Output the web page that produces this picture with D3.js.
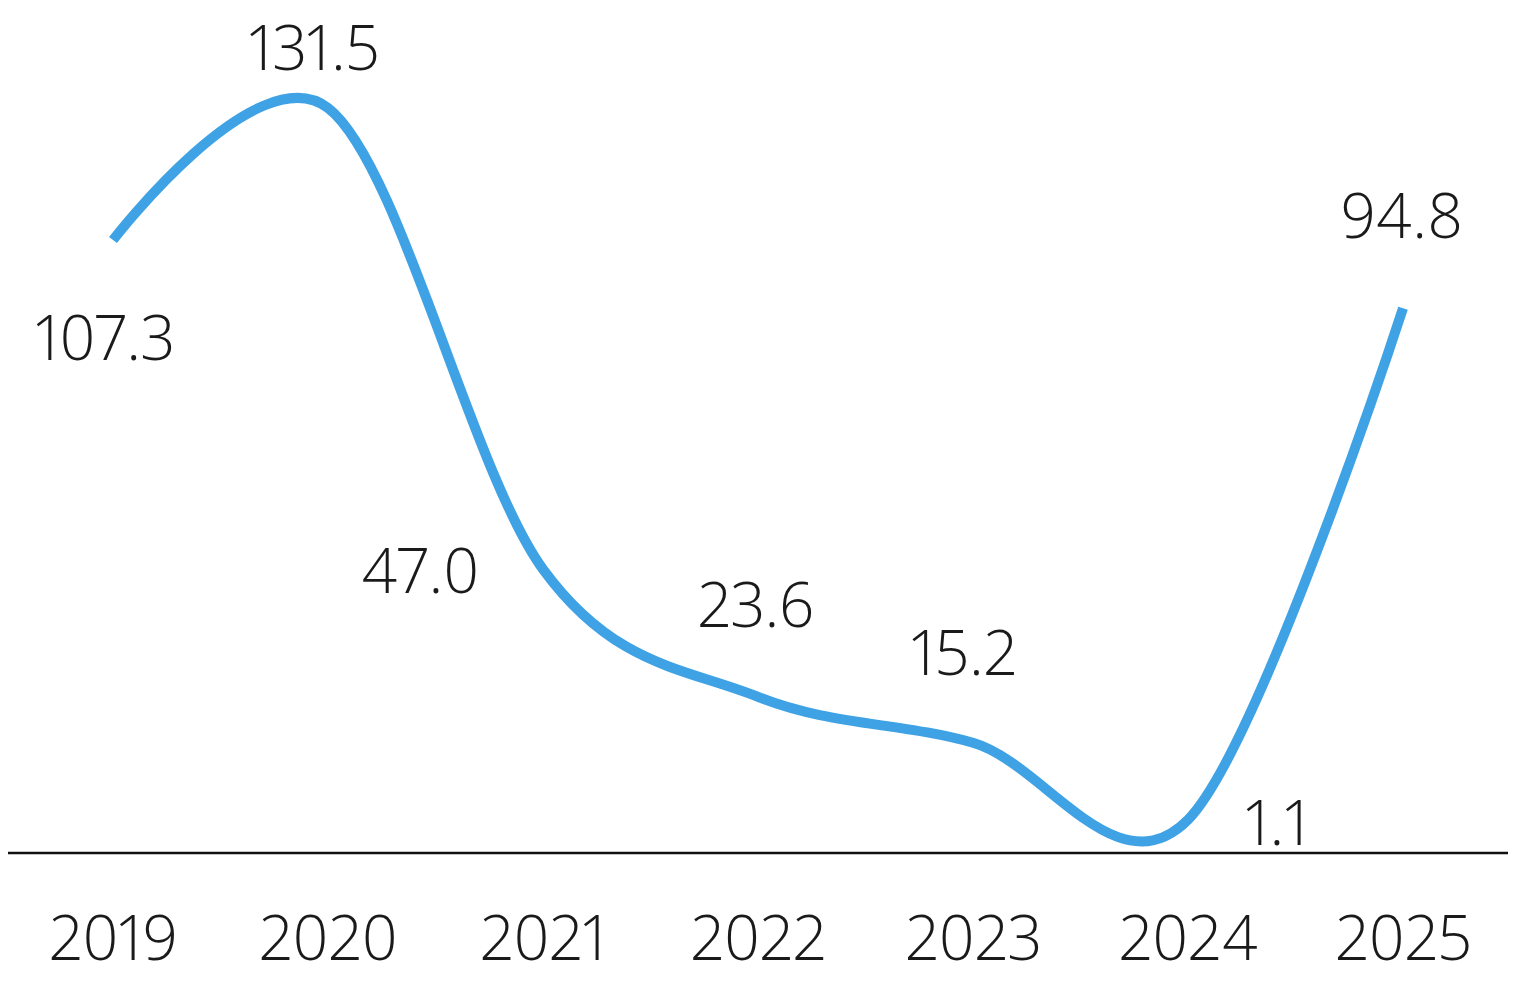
<!DOCTYPE html>
<html>
<head>
<meta charset="utf-8">
<script src="https://cdn.jsdelivr.net/npm/d3@7"></script>
<style>
  html, body { margin: 0; padding: 0; background: #ffffff; }
  svg { display: block; }
  text { font-family: "Open Sans", "Noto Sans", sans-serif; font-weight: 300; fill: #1a1a1a;
         font-variant-numeric: proportional-nums; font-feature-settings: "pnum" 1; }
</style>
</head>
<body>
<script>
// ---- data ----
const years = ["2019", "2020", "2021", "2022", "2023", "2024", "2025"];
const values = [107.3, 131.5, 47.0, 23.6, 15.2, 1.1, 94.8];
const valueLabels = ["107.3", "131.5", "47.0", "23.6", "15.2", "1.1", "94.8"];

// ---- layout (label offsets from each point, px) ----
const labelDx = [-8, -14, -123, -2, -9, 89, -1];
const labelDy = [120, -38, 24, -70, -68, 25, -70];

const W = 1517, H = 990;
const svg = d3.select("body").append("svg").attr("width", W).attr("height", H);

const yMin = -5;
const x = d3.scalePoint().domain(years).range([113, 1403]);
const y = d3.scaleLinear().domain([yMin, 131.5]).range([853, 108]);

// baseline
svg.append("line")
  .attr("x1", 8).attr("x2", 1508)
  .attr("y1", y(yMin)).attr("y2", y(yMin))
  .attr("stroke", "#111").attr("stroke-width", 2.5);

// x axis labels
const xAxis = d3.axisBottom(x).tickSize(0).tickPadding(0);
const ax = svg.append("g").attr("transform", `translate(0, ${y(yMin)})`).call(xAxis);
ax.select(".domain").remove();
ax.attr("font-family", null).attr("font-size", null);
ax.selectAll("text")
  .attr("dy", null)
  .attr("y", 107)
  .style("font-size", "62px")
  .attr("fill", "#1a1a1a");

// line (uniform Catmull-Rom)
const line = d3.line()
  .x((d, i) => x(years[i]))
  .y(d => y(d))
  .curve(d3.curveCardinal.tension(0));

svg.append("path")
  .datum(values)
  .attr("d", line)
  .attr("fill", "none")
  .attr("stroke", "#3ea2e4")
  .attr("stroke-width", 10)
  .attr("stroke-linecap", "butt")
  .attr("stroke-linejoin", "round");

// value labels
svg.selectAll("text.val")
  .data(values)
  .enter().append("text")
  .attr("class", "val")
  .attr("x", (d, i) => x(years[i]) + labelDx[i])
  .attr("y", (d, i) => y(d) + labelDy[i])
  .attr("text-anchor", "middle")
  .style("font-size", "62px")
  .text((d, i) => valueLabels[i]);
</script>
</body>
</html>
